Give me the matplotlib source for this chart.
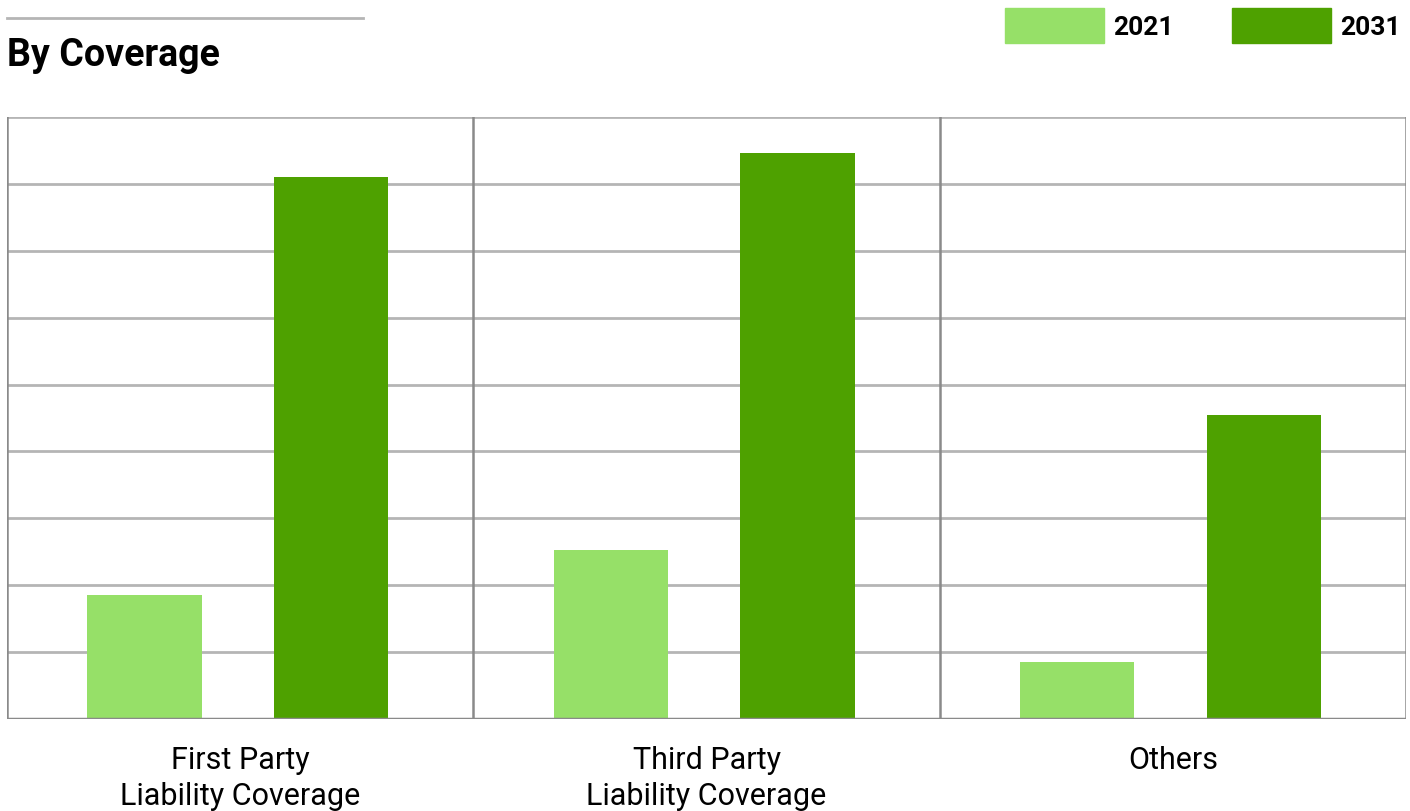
import matplotlib.pyplot as plt
from matplotlib.patches import Patch

plt.rcParams['font.family'] = ['Roboto', 'DejaVu Sans']

# data (gridline units)
categories = ["First Party\nLiability Coverage", "Third Party\nLiability Coverage", "Others"]
values_2021 = [1.85, 2.52, 0.85]
values_2031 = [8.10, 8.46, 4.55]
years = ["2021", "2031"]

light_green = "#96e068"
dark_green = "#4ea100"

fig = plt.figure(figsize=(14.1, 8.12), dpi=100)
ax = fig.add_axes([0.005, 0.1133, 0.9922, 0.7414])

x = list(range(len(categories)))
w = 0.245
ax.bar([i - 0.205 for i in x], values_2021, width=w, color=light_green, zorder=3)
ax.bar([i + 0.195 for i in x], values_2031, width=w, color=dark_green, zorder=3)

ax.set_xlim(-0.5, len(categories) - 0.5)
ax.set_ylim(0, 9)

# grid
for yv in range(1, 10):
    ax.axhline(yv, color="#b5b5b5", lw=2, zorder=1)
for xv in [-0.5, 0.5, 1.5, 2.5]:
    ax.axvline(xv, color="#8a8a8a", lw=1.8, zorder=2)
ax.axhline(0, color="#8a8a8a", lw=2.5, zorder=4)

for s in ax.spines.values():
    s.set_visible(False)
ax.set_yticks([])
ax.set_xticks(x)
ax.set_xticklabels(categories, fontsize=22, linespacing=1.3)
ax.tick_params(axis="x", length=0, pad=19)

# title + rule above it
fig.add_artist(plt.Line2D([7 / 1410, 363 / 1410], [1 - 19 / 812, 1 - 19 / 812],
                          color="#b5b5b5", lw=2))
fig.text(7 / 1410, 1 - 55 / 812, "By Coverage", fontsize=27, fontweight="bold",
         va="center", ha="left")

# legend
handles = [Patch(facecolor=light_green, edgecolor=light_green),
           Patch(facecolor=dark_green, edgecolor=dark_green)]
leg = fig.legend(handles, years, loc="upper right", bbox_to_anchor=(1.0, 1.0),
                 ncol=2, frameon=False, handlelength=3.75, handleheight=1.65,
                 handletextpad=0.35, columnspacing=2.2, borderaxespad=0.05,
                 borderpad=0.3, prop={"size": 19, "weight": "bold"})

fig.savefig("out.png", dpi=100)
